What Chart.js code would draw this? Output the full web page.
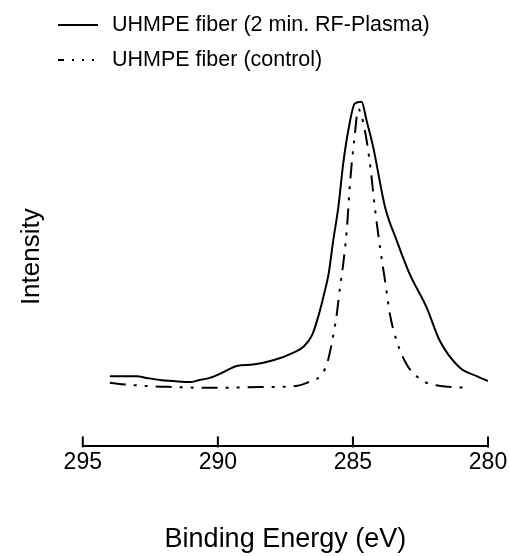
<!DOCTYPE html>
<html>
<head>
<meta charset="utf-8">
<script src="https://cdn.jsdelivr.net/npm/chart.js@4/dist/chart.umd.min.js"></script>
<style>
  html, body { margin: 0; padding: 0; background: #fff; }
  #wrap { width: 509px; height: 556px; position: relative; }
</style>
</head>
<body>
<div id="wrap"><canvas id="xps"></canvas></div>
<script>
// binding energy (eV) and intensity (arb. units)
const plasmaEnergy = [294.0, 293.0, 292.64, 292.15, 291.65, 291.04, 290.67, 290.3, 289.8, 289.3, 288.7, 287.95, 287.2, 286.8, 286.5, 286.26, 286.07, 285.9, 285.73, 285.54, 285.36, 285.17, 284.93, 284.68, 284.5, 284.25, 283.81, 283.38, 282.9, 282.27, 281.78, 281.04, 280.42, 280.0];
const plasmaIntensity = [20.0, 20.0, 19.5, 18.9, 18.6, 18.3, 18.9, 19.5, 21.1, 22.9, 23.3, 24.5, 26.7, 28.6, 31.9, 37.6, 43.3, 49.1, 58.6, 68.1, 80.5, 90.0, 97.6, 98.1, 92.9, 85.2, 68.1, 58.6, 49.1, 39.5, 30.0, 22.4, 20.0, 18.6];

const controlEnergy = [294.0, 293.38, 292.4, 291.53, 290.67, 289.68, 288.44, 287.2, 286.71, 286.22, 285.97, 285.79, 285.6, 285.48, 285.36, 285.23, 285.1, 284.94, 284.8, 284.56, 284.37, 284.19, 284.0, 283.81, 283.63, 283.38, 283.01, 282.64, 282.27, 281.66, 280.67];
const controlIntensity = [18.1, 17.6, 17.1, 16.9, 16.7, 16.7, 16.9, 17.1, 18.1, 20.0, 23.3, 29.1, 37.6, 45.2, 51.9, 61.4, 75.7, 88.1, 96.0, 90.0, 80.5, 68.1, 56.7, 47.1, 37.6, 30.0, 23.3, 20.0, 18.1, 17.1, 16.7];

const seriesLabels = ["UHMPE fiber (2 min. RF-Plasma)", "UHMPE fiber (control)"];
const xTitle = "Binding Energy (eV)";
const yTitle = "Intensity";

const FONT = "'Liberation Sans', Arial, Helvetica, sans-serif";

function toPoints(xs, ys) {
    return xs.map((x, i) => ({ x: x, y: ys[i] }));
}

// draws the upward tick marks and the two-line legend
const extras = {
    id: "extras",
    afterDraw(chart) {
        const ctx = chart.ctx;
        const xs = chart.scales.x;
        const bottom = chart.chartArea.bottom;
        ctx.save();
        ctx.strokeStyle = "#000";
        ctx.lineWidth = 2;
        xs.ticks.forEach(t => {
            const px = xs.getPixelForValue(t.value);
            ctx.beginPath();
            ctx.moveTo(px, bottom + 1);
            ctx.lineTo(px, bottom - 10);
            ctx.stroke();
        });

        const rows = [
            { y: 25, dash: [] },
            { y: 60, dash: [6, 8, 2, 8, 2, 8, 2, 8] }
        ];
        ctx.font = "21.5px " + FONT;
        ctx.fillStyle = "#000";
        ctx.textBaseline = "middle";
        chart.data.datasets.forEach((ds, i) => {
            const r = rows[i];
            ctx.setLineDash(r.dash);
            ctx.lineWidth = 2;
            ctx.beginPath();
            ctx.moveTo(58, r.y);
            ctx.lineTo(98, r.y);
            ctx.stroke();
            ctx.setLineDash([]);
            ctx.fillText(ds.label, 112, r.y);
        });
        ctx.restore();
    }
};

const ctx = document.getElementById("xps").getContext("2d");

const myChart = new Chart(ctx,
{
    type: "line",
    data:
    {
        datasets:
        [{
            label: seriesLabels[0],
            data: toPoints(plasmaEnergy, plasmaIntensity),
            borderColor: "#000",
            borderWidth: 2,
            pointRadius: 0,
            cubicInterpolationMode: "monotone",
            fill: false
        },
        {
            label: seriesLabels[1],
            data: toPoints(controlEnergy, controlIntensity),
            borderColor: "#000",
            borderWidth: 2,
            borderDash: [16, 8, 3, 8, 3, 8],
            pointRadius: 0,
            cubicInterpolationMode: "monotone",
            fill: false
        }]
    },
    options:
    {
        responsive: true,
        maintainAspectRatio: false,
        animation: false,
        layout: { padding: { left: 0, right: 21, top: 67, bottom: 0 } },
        plugins:
        {
            legend: { display: false },
            tooltip: { enabled: false }
        },
        scales:
        {
            x:
            {
                type: "linear",
                reverse: true,
                min: 280,
                max: 295,
                grid: { display: false },
                border: { display: true, color: "#000", width: 2 },
                ticks:
                {
                    stepSize: 5,
                    color: "#000",
                    padding: -6,
                    font: { family: FONT, size: 23 }
                },
                title:
                {
                    display: true,
                    text: xTitle,
                    color: "#000",
                    font: { family: FONT, size: 27 },
                    padding: { top: 53.6, bottom: 0 }
                }
            },
            y:
            {
                min: 0,
                max: 108,
                grid: { display: false },
                border: { display: false },
                ticks: { display: false },
                title:
                {
                    display: true,
                    text: yTitle,
                    color: "#000",
                    font: { family: FONT, size: 26 },
                    padding: { top: 16, bottom: 27.6 }
                }
            }
        }
    },
    plugins: [extras]
});
</script>
</body>
</html>
